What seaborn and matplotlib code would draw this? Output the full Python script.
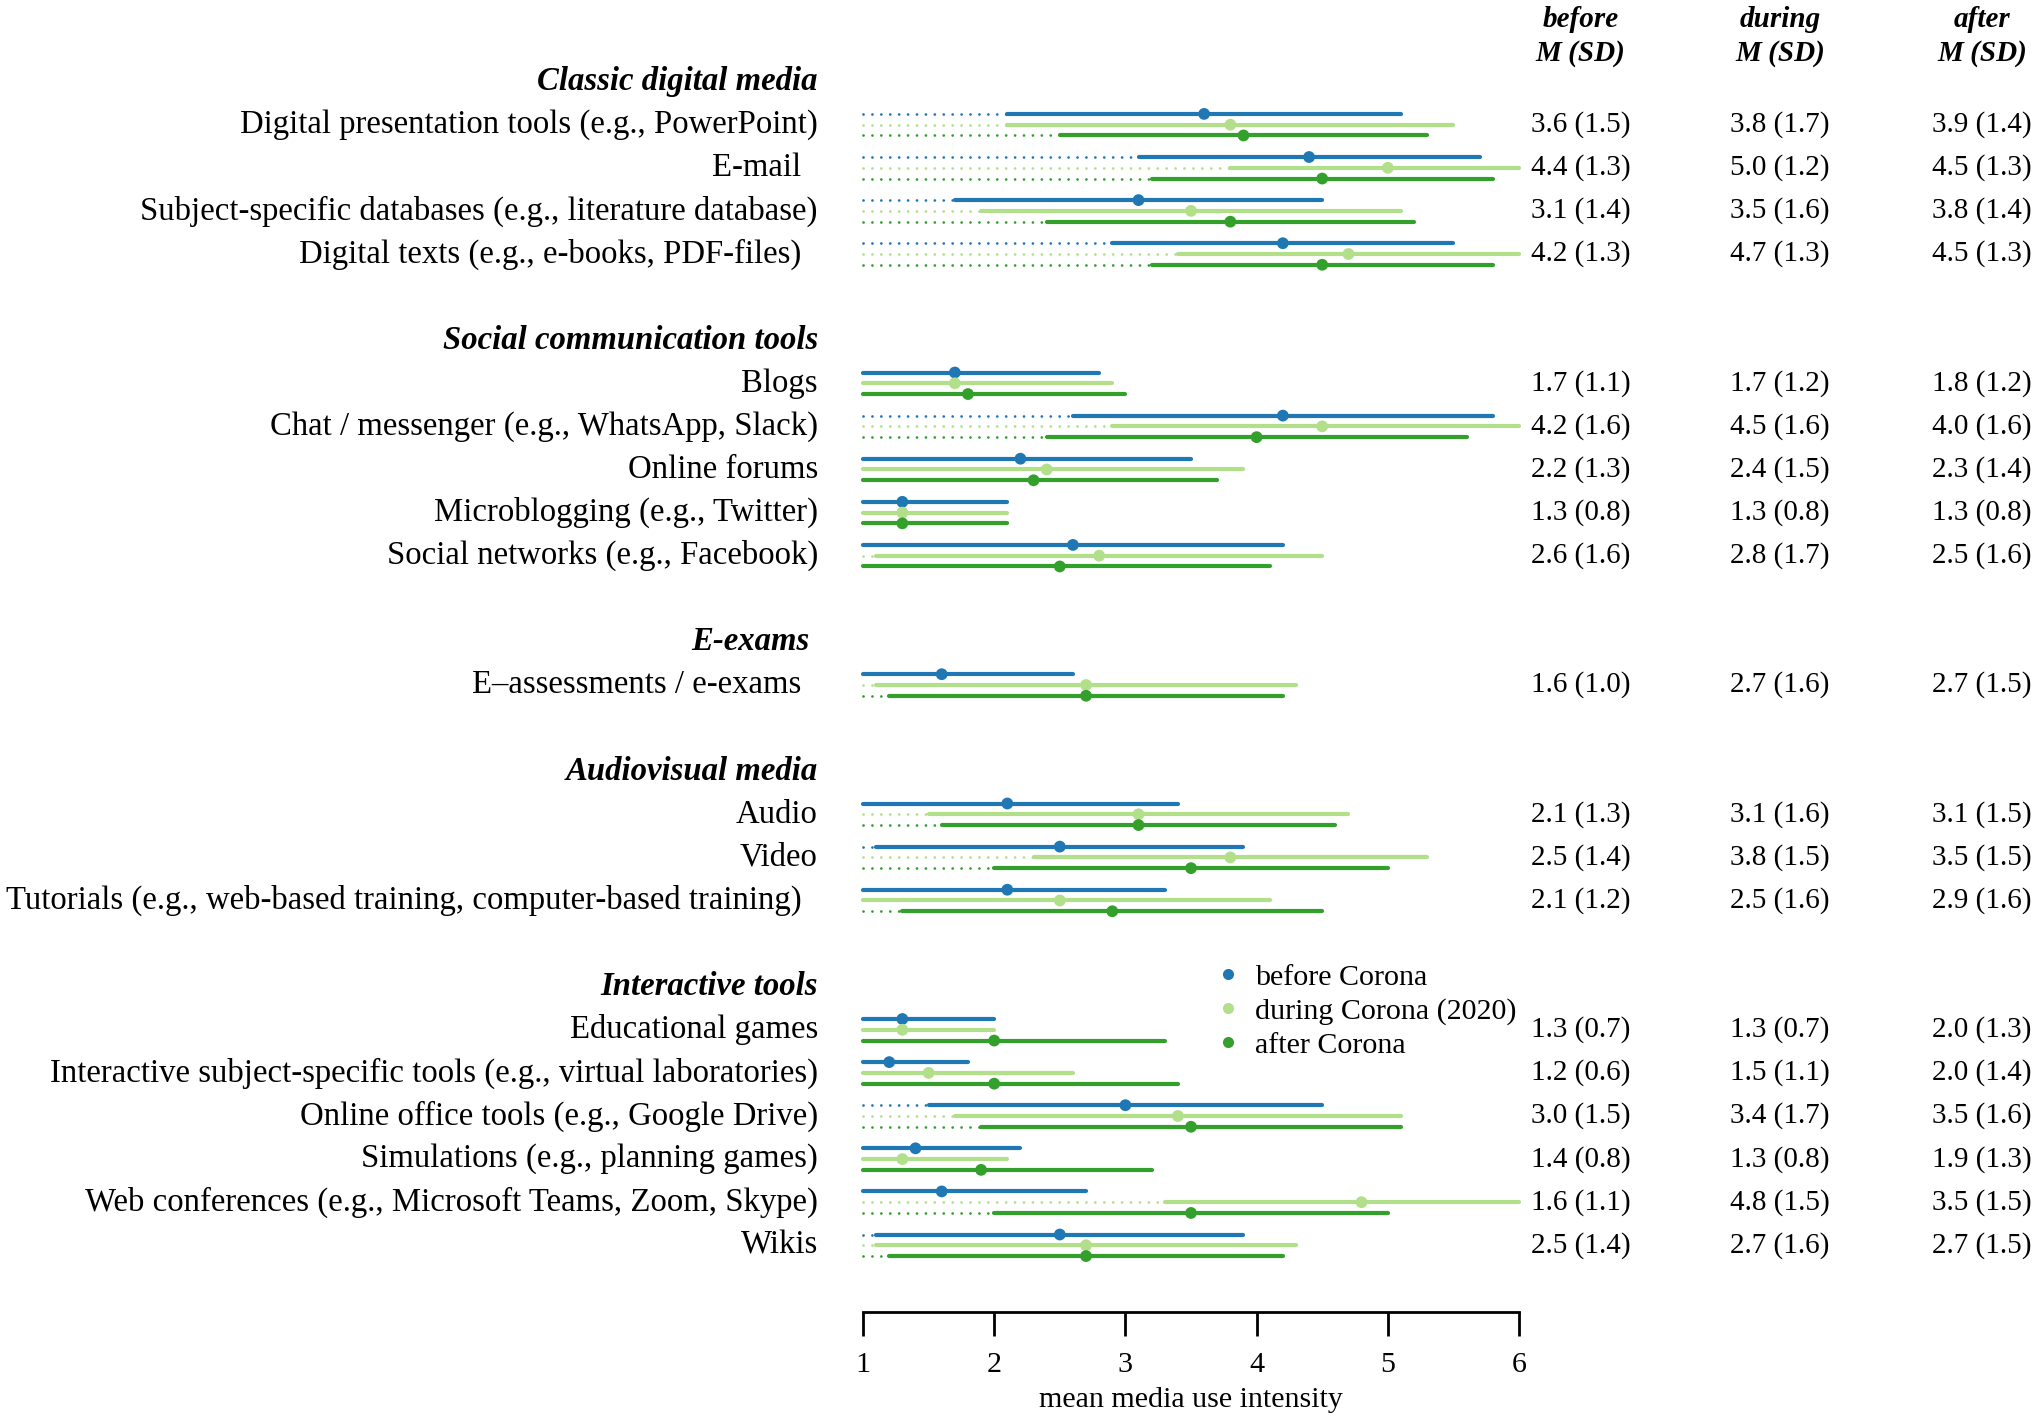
"""Media use intensity before / during / after Corona (mean +- SD)"""
import matplotlib
matplotlib.use("Agg")
import matplotlib.pyplot as plt
from matplotlib.lines import Line2D
import numpy as np
import pandas as pd
import seaborn as sns

# Group headers and how many items each group holds
groups = ["Classic digital media", "Social communication tools", "E-exams ",
          "Audiovisual media", "Interactive tools"]
group_sizes = [4, 5, 1, 3, 6]

items = [
    "Digital presentation tools (e.g., PowerPoint)",
    "E-mail  ",
    "Subject-specific databases (e.g., literature database)",
    "Digital texts (e.g., e-books, PDF-files)  ",
    "Blogs",
    "Chat / messenger (e.g., WhatsApp, Slack)",
    "Online forums",
    "Microblogging (e.g., Twitter)",
    "Social networks (e.g., Facebook)",
    "E\u2013assessments / e-exams  ",
    "Audio",
    "Video",
    "Tutorials (e.g., web-based training, computer-based training)  ",
    "Educational games",
    "Interactive subject-specific tools (e.g., virtual laboratories)",
    "Online office tools (e.g., Google Drive)",
    "Simulations (e.g., planning games)",
    "Web conferences (e.g., Microsoft Teams, Zoom, Skype)",
    "Wikis",
]

before_m = [3.6, 4.4, 3.1, 4.2, 1.7, 4.2, 2.2, 1.3, 2.6, 1.6, 2.1, 2.5, 2.1,
            1.3, 1.2, 3.0, 1.4, 1.6, 2.5]
before_sd = [1.5, 1.3, 1.4, 1.3, 1.1, 1.6, 1.3, 0.8, 1.6, 1.0, 1.3, 1.4, 1.2,
             0.7, 0.6, 1.5, 0.8, 1.1, 1.4]
during_m = [3.8, 5.0, 3.5, 4.7, 1.7, 4.5, 2.4, 1.3, 2.8, 2.7, 3.1, 3.8, 2.5,
            1.3, 1.5, 3.4, 1.3, 4.8, 2.7]
during_sd = [1.7, 1.2, 1.6, 1.3, 1.2, 1.6, 1.5, 0.8, 1.7, 1.6, 1.6, 1.5, 1.6,
             0.7, 1.1, 1.7, 0.8, 1.5, 1.6]
after_m = [3.9, 4.5, 3.8, 4.5, 1.8, 4.0, 2.3, 1.3, 2.5, 2.7, 3.1, 3.5, 2.9,
           2.0, 2.0, 3.5, 1.9, 3.5, 2.7]
after_sd = [1.4, 1.3, 1.4, 1.3, 1.2, 1.6, 1.4, 0.8, 1.6, 1.5, 1.5, 1.5, 1.6,
            1.3, 1.4, 1.6, 1.3, 1.5, 1.5]

periods = ["before Corona", "during Corona (2020)", "after Corona"]
col_titles = ["before", "during", "after"]

sns.set_theme(style="white")
plt.rcParams["font.family"] = ["Liberation Serif", "DejaVu Serif"]
plt.rcParams["text.color"] = "black"
plt.rcParams["xtick.color"] = "black"
plt.rcParams["xtick.labelcolor"] = "black"
pal = sns.color_palette("Paired")
colors = [pal[1], pal[2], pal[3]]

# row positions: header, items, one blank row between groups
header_y = []
item_y = []
pos = 0
for n in group_sizes:
    header_y.append(pos)
    item_y.extend(range(pos + 1, pos + n + 1))
    pos += n + 2
item_y = np.array(item_y, dtype=float)

offsets = [-0.25, 0.0, 0.25]
means = [before_m, during_m, after_m]
sds = [before_sd, during_sd, after_sd]

df = pd.concat([
    pd.DataFrame({"y": item_y + offsets[k], "mean": means[k], "sd": sds[k],
                  "period": periods[k]})
    for k in range(3)
], ignore_index=True)
df["low"] = (df["mean"] - df["sd"]).clip(1, 6)
df["high"] = (df["mean"] + df["sd"]).clip(1, 6)

fig = plt.figure(figsize=(10.16, 7.11), dpi=200)
ax = fig.add_axes([863 / 2032, 0, 656 / 2032, 1])
ax.set_xlim(1, 6)
ax.set_ylim(31.1, -1.893)

fs_lab = 11.8   # row labels and group headers
fs = 10.5       # numbers and column headers
fs_ax = 10.8    # axis and legend

for k, period in enumerate(periods):
    sub = df[df["period"] == period]
    for _, r in sub.iterrows():
        if r["low"] > 1:
            ax.plot([1, r["low"]], [r["y"], r["y"]], color=colors[k], lw=1.0,
                    linestyle=(0, (0.01, 3.2)), dash_capstyle="round",
                    clip_on=False, zorder=1)
        ax.plot([r["low"], r["high"]], [r["y"], r["y"]], color=colors[k],
                lw=1.5, solid_capstyle="round", clip_on=False, zorder=2)

sns.scatterplot(data=df, x="mean", y="y", hue="period", palette=colors,
                hue_order=periods, s=18, linewidth=0, legend=False, ax=ax,
                zorder=3, clip_on=False)

# left labels
for g, y in zip(groups, header_y):
    ax.text(0.657, y, g, ha="right", va="center", fontsize=fs_lab,
            fontweight="bold", style="italic", clip_on=False)
for lab, y in zip(items, item_y):
    ax.text(0.657, y, lab, ha="right", va="center", fontsize=fs_lab,
            clip_on=False)

# M (SD) columns
col_x = [6.47, 7.99, 9.53]
for k in range(3):
    ax.text(col_x[k], -1.45, col_titles[k], ha="center", va="center",
            fontsize=fs, fontweight="bold", style="italic", clip_on=False)
    ax.text(col_x[k], -0.66, "M (SD)", ha="center", va="center",
            fontsize=fs, fontweight="bold", style="italic", clip_on=False)
    for m, s, y in zip(means[k], sds[k], item_y):
        ax.text(col_x[k], y, f"{m:.1f} ({s:.1f})", ha="center", va="center",
                fontsize=fs, clip_on=False)

# x axis drawn low in the panel
for side in ["top", "right", "left"]:
    ax.spines[side].set_visible(False)
ax.spines["bottom"].set_position(("data", 28.54))
ax.spines["bottom"].set_bounds(1, 6)
ax.spines["bottom"].set_color("black")
ax.spines["bottom"].set_linewidth(1.0)
ax.set_xticks(range(1, 7))
ax.set_yticks([])
ax.tick_params(axis="x", direction="out", length=8.5, width=1.0, pad=6,
               labelsize=fs_ax, colors="black", bottom=True)
ax.set_xlabel("")
ax.set_ylabel("")
ax.text(3.5, 30.6, "mean media use intensity", ha="center", va="center",
        fontsize=fs_ax, clip_on=False)

handles = [Line2D([0], [0], marker="o", linestyle="", markersize=4.0,
                  markerfacecolor=c, markeredgewidth=0) for c in colors]
ax.legend(handles, periods, loc="center left", bbox_to_anchor=(3.71, 21.57),
          bbox_transform=ax.transData, frameon=False, fontsize=fs_ax,
          handlelength=0.6, handletextpad=0.6, labelspacing=0.22,
          borderpad=0, borderaxespad=0, labelcolor="black")

fig.savefig("out.png", dpi=200, facecolor="white")
